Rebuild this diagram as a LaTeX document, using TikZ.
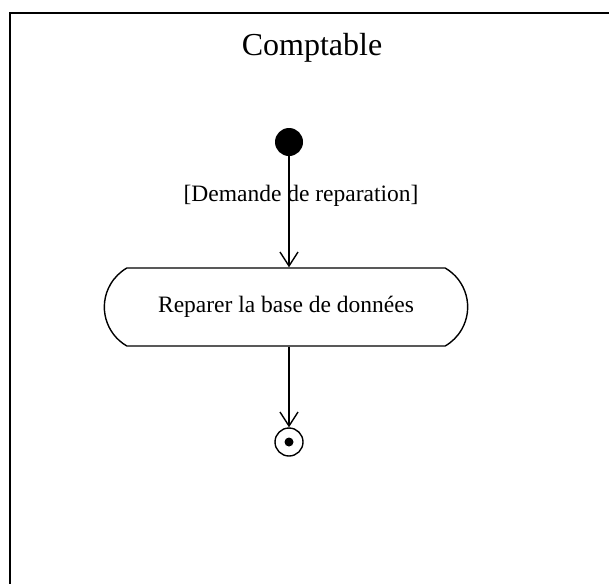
\documentclass[tikz,border=0pt]{standalone}
\usepackage{fontspec}
\setmainfont{Liberation Serif}
\usepackage{tikz}
\usetikzlibrary{arrows.meta, positioning, calc, shapes.misc}

\begin{document}
\begin{tikzpicture}[x=1pt, y=-1pt,
        initial/.style={circle, fill=black, minimum size=28pt, inner sep=0pt},
        final/.style={draw, circle, line width=1.4pt, minimum size=28pt, inner sep=0pt},
        activity/.style={draw, rounded rectangle, rounded rectangle arc length=120, line width=1.4pt, minimum width=370pt, minimum height=78pt, font=\fontsize{23.5}{28}\selectfont},
        guard/.style={font=\fontsize{23.5}{28}\selectfont, inner sep=1pt},
        title/.style={font=\fontsize{32}{38}\selectfont, anchor=base},
        flow/.style={line width=1.4pt, -{Straight Barb[length=14pt, width=18pt, line width=1.4pt]}}
    ]
        \useasboundingbox (0,0) rectangle (609,584);

        % swimlane
        \draw[line width=2pt] (609,13) -- (10,13) -- (10,584);
        \node[title] (lane) at (312,55) {Comptable};

        \node[initial] (start) at (289,142) {};
        \node[activity] (repair) at (286,307) {Reparer la base de données};
        \node[final] (end) at (289,442) {};
        \fill (end.center) circle (4.5pt);

        \draw[flow] (start) -- node[guard, pos=0.36, xshift=12pt] {[Demande de reparation]} (repair.north -| start);
        \draw[flow] (repair.south -| end) -- (end);

    \end{tikzpicture}
\end{document}
